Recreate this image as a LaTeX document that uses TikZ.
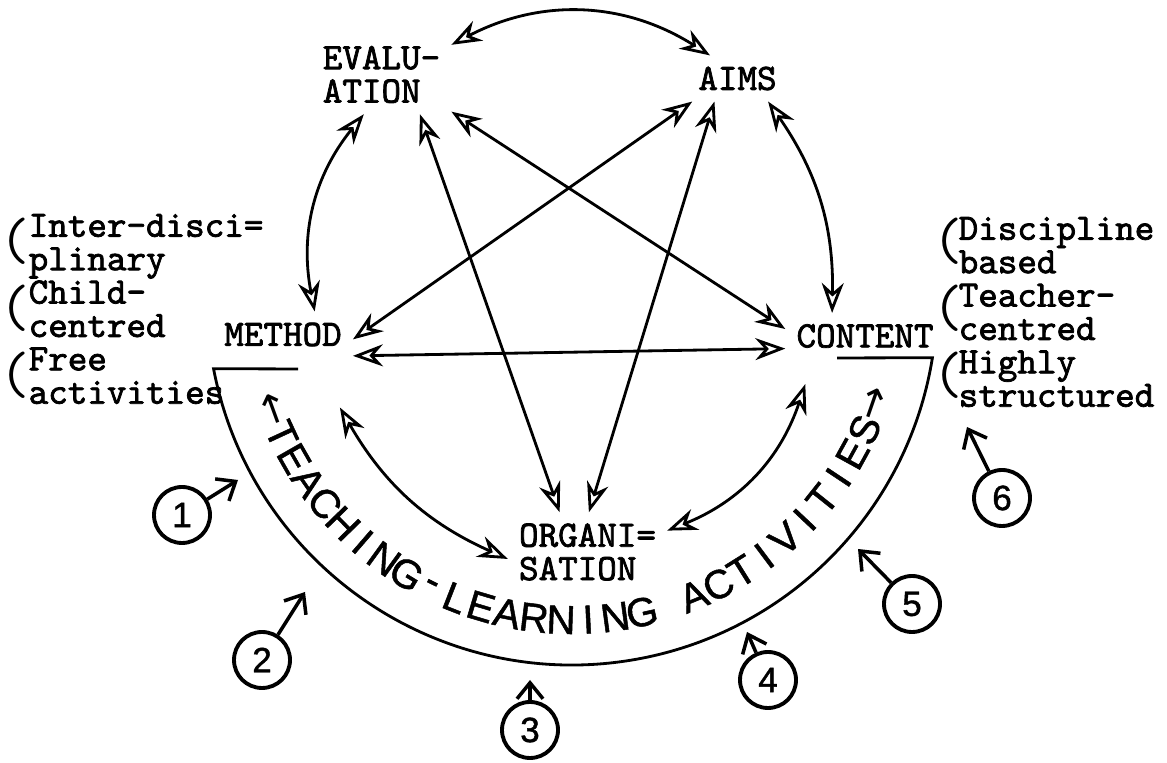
\documentclass[tikz,border=0pt]{standalone}
\usepackage{fontspec}
\newfontfamily\typewriter{lmmono10-regular.otf}[FakeBold=2]
\newfontfamily\handfont{Liberation Sans}[FakeBold=1.2]
\newfontfamily\symfont{DejaVu Sans}
\usetikzlibrary{arrows.meta}

\begin{document}
\begin{tikzpicture}[
    typed/.style={font=\typewriter\fontsize{10.6}{9.5}\selectfont, align=left, inner sep=3pt},
    paren/.style={font=\ttfamily\fontsize{17}{17}\selectfont, inner sep=0pt},
    arcletter/.style={font=\handfont\fontsize{11.5}{13}\selectfont, inner sep=0pt},
    link/.style={{Stealth[open,length=3mm,width=2.2mm]}-{Stealth[open,length=3mm,width=2.2mm]}, thick},
    numcirc/.style={draw, circle, line width=1.1pt, minimum size=0.56cm, inner sep=0pt, font=\handfont},
    pointer/.style={-{Straight Barb[length=1.6mm,width=2.6mm]}, line width=1pt}
  ]
    \useasboundingbox (0,0) rectangle (11.67,7.63);

    % Five elements
    \node[typed] (eval) at (3.815,6.885) {EVALU-\\ATION};
    \node[typed] (aims) at (7.375,6.845) {AIMS};
    \node[typed] (method) at (2.83,4.285) {METHOD};
    \node[typed] (content) at (8.65,4.27) {CONTENT};
    \node[typed] (organ) at (5.875,2.11) {ORGANI=\\SATION};

    % Notes at both sides
    \node[typed, anchor=west, inner sep=0pt] (leftnotes) at (0.28,4.54) {Inter-disci=\\plinary\\Child-\\centred\\Free\\activities};
    \node[typed, anchor=west, inner sep=0pt] (rightnotes) at (9.58,4.51) {Discipline\\based\\Teacher-\\centred\\Highly\\structured};
    \foreach \i/\y in {1/5.22,2/4.55,3/3.88} {
        \node[paren] (lp\i) at (0.15,\y) {(};
        \node[paren] (rp\i) at (9.48,\y) {(};
      }

    % Bowl of teaching-learning activities
    \coordinate (bowl) at (5.72,4.63);
    \draw[thick] (2.98,3.94) -- ([shift={(190.85:3.65)}]bowl)
      arc[start angle=190.85, end angle=350.9, radius=3.65] -- (8.37,4.05);
    \foreach \ch [count=\i from 0, evaluate=\i as \ang using 200+4.86*\i] in
        {{\symfont ←},T,E,A,C,H,I,N,G,-,L,E,A,R,N,I,N,G}
      \node[arcletter, rotate=\ang+90] (tl\i) at ([shift={(\ang:3.2)}]bowl) {\ch};
    \foreach \ch [count=\i from 19, evaluate=\i as \ang using 200+4.86*\i] in
        {A,C,T,I,V,I,T,I,E,S,{\symfont →}}
      \node[arcletter, rotate=\ang+90] (al\i) at ([shift={(\ang:3.2)}]bowl) {\ch};

    % Links between the elements
    \draw[link] (eval.23) to[bend left=30] (aims.140);
    \draw[link] (eval.246) to[bend right=25] (method.36);
    \draw[link] (aims.-37) to[bend left=18] (content.145);
    \draw[link] (method.-4) -- (aims.207);
    \draw[link] (method.-17) -- (content.189);
    \draw[link] (eval.-28) -- (content.175);
    \draw[link] (eval.-46) -- (organ.125);
    \draw[link] (aims.225) -- (organ.88);
    \draw[link] ([shift={(-0.13,-0.5)}]method.south east) to[bend right=18] (organ.185);
    \draw[link] ([shift={(0.2,-0.25)}]content.south west) to[bend left=25] (organ.15);

    % Numbered pointers
    \foreach \n/\cx/\cy/\tx/\ty in {1/1.82/2.48/2.38/2.83, 2/2.62/1.03/3.05/1.71,
        3/5.30/0.33/5.30/0.83, 4/7.68/0.83/7.47/1.31,
        5/9.12/1.59/8.58/2.14, 6/10.02/2.65/9.67/3.36} {
        \node[numcirc] (c\n) at (\cx,\cy) {\n};
        \coordinate (t\n) at (\tx,\ty);
        \draw[pointer] (c\n) -- (t\n);
      }
  \end{tikzpicture}
\end{document}
